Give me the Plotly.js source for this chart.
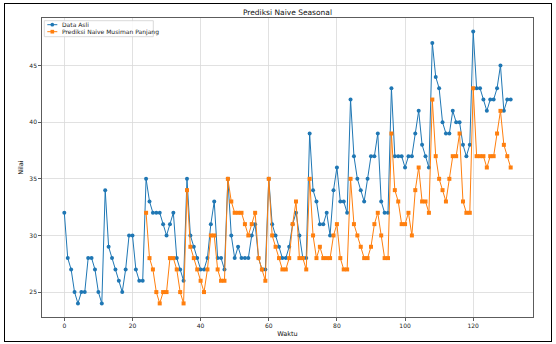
<!DOCTYPE html>
<html>
<head>
<meta charset="utf-8">
<script src="https://cdn.plot.ly/plotly-3.0.1.min.js"></script>
<style>
  body { margin: 0; padding: 0; background: #fff; }
  #wrap { position: relative; width: 556px; height: 344px; }
  #chart { position: absolute; left: 0; top: 0; width: 556px; height: 344px; }
  #frame { position: absolute; left: 4px; top: 3px; width: 546px; height: 337px; border: 1.5px solid #000; pointer-events: none; }
</style>
</head>
<body>
<div id="wrap">
  <div id="chart"></div>
  <div id="frame"></div>
</div>
<script>
const chartTitle = "Prediksi Naive Seasonal";
const xLabel = "Waktu";
const yLabel = "Nilai";
const seriesNames = ["Data Asli", "Prediksi Naive Musiman Panjang"];
const seriesColors = ["#1f77b4", "#ff7f0e"];

const actualValues = [
  32,28,27,25,24,25,25,28,28,27,25,24,34,29,28,27,26,25,27,30,30,27,26,26,
  35,33,32,32,32,31,30,31,32,28,27,26,35,30,29,28,27,27,28,31,33,28,28,27,
  35,30,28,29,28,28,28,30,31,28,27,27,35,31,30,29,28,28,29,31,32,30,28,28,
  39,34,33,31,31,32,30,34,36,33,33,32,42,37,35,34,33,35,37,37,39,33,32,32,
  43,37,37,37,36,37,37,39,41,38,37,36,47,44,43,40,39,39,41,40,40,38,37,38,
  48,43,43,42,41,42,42,43,45,41,42,42
];
const actualTime = actualValues.map((_, i) => i);

const forecastStart = 24;
const forecastValues = [
  32,28,27,25,24,25,25,28,28,27,25,24,34,29,28,27,26,25,27,30,30,27,26,26,
  35,33,32,32,32,31,30,31,32,28,27,26,35,30,29,28,27,27,28,31,33,28,28,27,
  35,30,28,29,28,28,28,30,31,28,27,27,35,31,30,29,28,28,29,31,32,30,28,28,
  39,34,33,31,31,32,30,34,36,33,33,32,42,37,35,34,33,35,37,37,39,33,32,32,
  43,37,37,37,36,37,37,39,41,38,37,36
];
const forecastTime = forecastValues.map((_, i) => i + forecastStart);

const xTicks = [0, 20, 40, 60, 80, 100, 120];
const yTicks = [25, 30, 35, 40, 45];

const font = "DejaVu Sans, sans-serif";

const traces = [
  {
    x: actualTime, y: actualValues, name: seriesNames[0],
    type: "scatter", mode: "lines+markers", showlegend: false,
    line: { color: seriesColors[0], width: 1 },
    marker: { color: seriesColors[0], size: 4, symbol: "circle" }
  },
  {
    x: forecastTime, y: forecastValues, name: seriesNames[1],
    type: "scatter", mode: "lines+markers", showlegend: false,
    line: { color: seriesColors[1], width: 1 },
    marker: { color: seriesColors[1], size: 4, symbol: "square" }
  }
];

const axisCommon = {
  showline: true, mirror: true, linecolor: "#333", linewidth: 0.8,
  showgrid: true, gridcolor: "#d9d9d9", gridwidth: 0.8,
  zeroline: false, ticks: "outside", ticklen: 3, tickwidth: 0.8, tickcolor: "#333",
  tickfont: { family: font, size: 6, color: "#222" }
};

// compact legend drawn in paper coordinates (matplotlib-style)
const legendRows = [0.9776, 0.9542];
const shapes = [
  { type: "rect", xref: "paper", yref: "paper", x0: 0.0047, x1: 0.2267, y0: 0.9375, y1: 0.991,
    line: { color: "#d0d0d0", width: 0.8 }, fillcolor: "rgba(255,255,255,0.85)", layer: "above" }
];
const annotations = [];
seriesNames.forEach((name, k) => {
  const yc = legendRows[k];
  shapes.push({ type: "line", xref: "paper", yref: "paper", x0: 0.0108, x1: 0.0312, y0: yc, y1: yc,
    line: { color: seriesColors[k], width: 1 }, layer: "above" });
  shapes.push({ type: k === 0 ? "circle" : "rect", xref: "paper", yref: "paper",
    x0: 0.021 - 0.0037, x1: 0.021 + 0.0037, y0: yc - 0.0062, y1: yc + 0.0062,
    line: { color: seriesColors[k], width: 0 }, fillcolor: seriesColors[k], layer: "above" });
  annotations.push({ text: name, xref: "paper", yref: "paper", x: 0.0373, y: yc,
    xanchor: "left", yanchor: "middle", showarrow: false,
    font: { family: font, size: 6, color: "#222" } });
});

const layout = {
  width: 556, height: 344,
  margin: { l: 41.7, r: 23.3, t: 18.3, b: 26.7, pad: 0 },
  paper_bgcolor: "#fff", plot_bgcolor: "#fff",
  showlegend: false,
  title: {
    text: chartTitle, font: { family: font, size: 7.5, color: "#111" },
    x: 0.5, xref: "paper", xanchor: "center", y: 0.963, yref: "container", yanchor: "middle"
  },
  xaxis: Object.assign({}, axisCommon, {
    range: [-6.55, 137.55], tickvals: xTicks, ticktext: xTicks.map(String),
    title: { text: xLabel, font: { family: font, size: 6.5, color: "#111" }, standoff: 3 }
  }),
  yaxis: Object.assign({}, axisCommon, {
    range: [22.8, 49.2], tickvals: yTicks, ticktext: yTicks.map(String),
    title: { text: yLabel, font: { family: font, size: 6.5, color: "#111" }, standoff: 4 }
  }),
  shapes: shapes,
  annotations: annotations
};

Plotly.newPlot("chart", traces, layout, { staticPlot: true, displayModeBar: false });
</script>
</body>
</html>
